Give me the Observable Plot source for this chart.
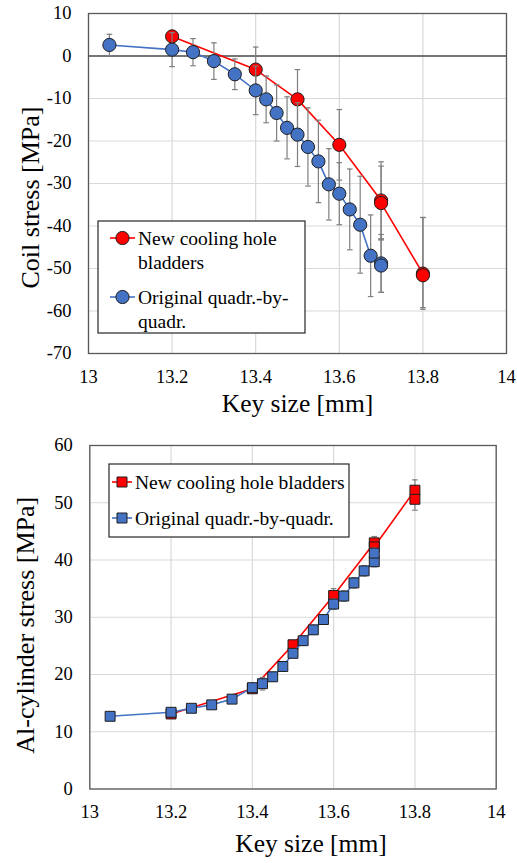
<!DOCTYPE html>
<html>
<head>
<meta charset="utf-8">
<script src="https://cdn.jsdelivr.net/npm/d3@7"></script>
<script src="https://cdn.jsdelivr.net/npm/@observablehq/plot@0.6"></script>
<style>
  html, body { margin: 0; padding: 0; background: #fff; }
  #wrap { width: 517px; }
  svg { display: block; }
</style>
</head>
<body>
<div id="wrap"></div>
<script>
// ---------- data ----------
const xTicks = [13, 13.2, 13.4, 13.6, 13.8, 14];
const topYTicks = [-70, -60, -50, -40, -30, -20, -10, 0, 10];
const botYTicks = [0, 10, 20, 30, 40, 50, 60];

const seriesNames = ["New cooling hole bladders", "Original quadr.-by-quadr."];

const redX = [13.2, 13.4, 13.5, 13.6, 13.7, 13.7, 13.8, 13.8];
const blueX = [13.05, 13.2, 13.25, 13.3, 13.35, 13.4, 13.425, 13.45, 13.475, 13.5,
               13.525, 13.55, 13.575, 13.6, 13.625, 13.65, 13.675, 13.7, 13.7];

// Coil stress [MPa]
const coilRedY = [4.6, -3.2, -10.2, -20.9, -34.0, -34.6, -51.2, -51.6];
const coilRedErrUp = [1.4, 5.3, 7.0, 8.3, 9.1, 8.7, 13.2, 13.6];
const coilRedErrDown = [1.4, 5.3, 7.0, 8.3, 9.1, 8.7, 8.0, 8.0];
const coilBlueY = [2.6, 1.5, 0.9, -1.2, -4.3, -8.1, -10.2, -13.4, -16.9, -18.5,
                   -21.4, -24.8, -30.2, -32.4, -36.1, -39.7, -47.0, -48.8, -49.3];
const coilBlueErr = [2.5, 4.0, 3.2, 4.3, 3.6, 5.7, 5.5, 6.6, 7.3, 7.5,
                     9.2, 9.7, 8.4, 7.3, 9.5, 11.4, 9.6, 6.8, 6.3];

// Al-cylinder stress [MPa]
const alRedY = [13.1, 17.5, 25.2, 33.8, 43.0, 42.3, 52.2, 50.6];
const alRedErr = [0.5, 0.6, 0.7, 1.2, 1.1, 1.1, 1.8, 1.9];
const alBlueY = [12.7, 13.4, 14.1, 14.7, 15.7, 17.7, 18.4, 19.6, 21.4, 23.7,
                 25.9, 27.8, 29.6, 32.3, 33.7, 36.0, 38.1, 39.7, 41.2];
const alBlueErr = [0.6, 0.6, 0.6, 0.6, 0.7, 0.7, 1.1, 0.8, 0.8, 0.8,
                   0.8, 0.8, 0.8, 0.9, 0.9, 0.9, 0.9, 0.9, 0.9];

// ---------- helpers ----------
const RED = "#ff0000", BLUE = "#4472c4", ERR = "#7f7f7f", GRID = "#d9d9d9";
const FONT = "Liberation Serif";

const hline = {
  draw(ctx, size) {
    const h = Math.sqrt(size / Math.PI);
    ctx.moveTo(-h, 0); ctx.lineTo(h, 0);
  }
};

function rows(xs, ys, up, down) {
  return xs.map((x, i) => ({x, y: ys[i], hi: ys[i] + up[i], lo: ys[i] - (down || up)[i]}));
}

function seriesMarks(data, color, symbol, r) {
  const caps = data.flatMap(d => [{x: d.x, y: d.hi}, {x: d.x, y: d.lo}]);
  return [
    Plot.ruleX(data, {x: "x", y1: "lo", y2: "hi", stroke: ERR, strokeWidth: 1.2}),
    Plot.dot(caps, {x: "x", y: "y", symbol: hline, r: 2.8, stroke: ERR, strokeWidth: 1.2}),
    Plot.line(data, {x: "x", y: "y", stroke: color, strokeWidth: 1.6}),
    Plot.dot(data, {x: "x", y: "y", symbol, r, fill: color, stroke: "#1e1e1e", strokeWidth: 1})
  ];
}

function makeChart(o) {
  return Plot.plot({
    width: 517,
    height: o.height,
    marginTop: o.mt, marginBottom: o.mb, marginLeft: o.ml, marginRight: o.mr,
    style: {fontFamily: FONT, background: "#fff", color: "#000", overflow: "visible"},
    x: {domain: [13, 14]},
    y: {domain: o.yDomain},
    marks: [
      Plot.gridX(xTicks, {stroke: GRID, strokeOpacity: 1, strokeWidth: 1.2}),
      Plot.gridY(o.yTicks, {stroke: GRID, strokeOpacity: 1, strokeWidth: 1.2}),
      o.zero ? Plot.ruleY([0], {stroke: "#000", strokeWidth: 1.2}) : null,
      Plot.frame({stroke: "#595959", strokeWidth: 1.3}),
      Plot.axisX(xTicks, {tickSize: 0, tickPadding: 16, fontSize: 18.5, tickFormat: d => String(d), label: null}),
      Plot.axisY(o.yTicks, {tickSize: 0, tickPadding: 17, fontSize: 18.5, tickFormat: d => String(d), label: null}),
      Plot.text([o.xLabel], {text: d => d, frameAnchor: "bottom", textAnchor: "middle", dy: o.xLabelDy, dx: o.xLabelDx, fontSize: 25.5}),
      Plot.text([o.yLabel], {text: d => d, frameAnchor: "left", textAnchor: "middle", rotate: -90, dx: o.yLabelDx, dy: o.yLabelDy, fontSize: 26}),
      ...seriesMarks(o.red, RED, o.symbol, o.r),
      ...seriesMarks(o.blue, BLUE, o.symbol, o.r)
    ]
  });
}

function addLegend(svg, box, items, symbol, size) {
  const g = d3.select(svg).append("g").attr("font-family", FONT).attr("font-size", 19.5)
    .attr("text-anchor", "start");
  g.append("rect").attr("x", box.x).attr("y", box.y).attr("width", box.w).attr("height", box.h)
    .attr("fill", "#fff").attr("stroke", "#262626").attr("stroke-width", 1.2);
  items.forEach(it => {
    g.append("line").attr("x1", box.x + box.lx1).attr("x2", box.x + box.lx2).attr("y1", it.y).attr("y2", it.y)
      .attr("stroke", it.color).attr("stroke-width", 1.6);
    g.append("path").attr("transform", `translate(${box.x + (box.lx1 + box.lx2) / 2},${it.y})`)
      .attr("d", d3.symbol(symbol === "square" ? d3.symbolSquare : d3.symbolCircle, size)())
      .attr("fill", it.color).attr("stroke", "#1e1e1e").attr("stroke-width", 1);
    it.lines.forEach((t, k) => {
      g.append("text").attr("x", box.x + box.tx).attr("y", it.y + k * box.lh)
        .attr("text-anchor", "start")
        .attr("dominant-baseline", "central").attr("fill", "#000").text(t);
    });
  });
}

// ---------- charts ----------
const wrap = document.getElementById("wrap");

const coilChart = makeChart({
  height: 428, mt: 13, mb: 75, ml: 88, mr: 11,
  yDomain: [-70, 10], yTicks: topYTicks, zero: true,
  xLabel: "Key size [mm]", yLabel: "Coil stress [MPa]", xLabelDx: 0, xLabelDy: 58, yLabelDx: -58, yLabelDy: 14,
  red: rows(redX, coilRedY, coilRedErrUp, coilRedErrDown),
  blue: rows(blueX, coilBlueY, coilBlueErr),
  symbol: "circle", r: 6.6
});
wrap.appendChild(coilChart);
addLegend(coilChart, {x: 98, y: 221, w: 207, h: 112, tx: 40, lh: 24, lx1: 12, lx2: 37}, [
  {color: RED, y: 238, lines: ["New cooling hole", "bladders"]},
  {color: BLUE, y: 297, lines: ["Original quadr.-by-", "quadr."]}
], "circle", Math.PI * 6.6 * 6.6);

const alChart = makeChart({
  height: 435, mt: 17, mb: 74.5, ml: 89.3, mr: 21.3,
  yDomain: [0, 60], yTicks: botYTicks, zero: false,
  xLabel: "Key size [mm]", yLabel: "Al-cylinder stress [MPa]", xLabelDx: 18, xLabelDy: 63, yLabelDx: -64, yLabelDy: 8,
  red: rows(redX, alRedY, alRedErr),
  blue: rows(blueX, alBlueY, alBlueErr),
  symbol: "square", r: 5.6
});
wrap.appendChild(alChart);
addLegend(alChart, {x: 109, y: 36, w: 240, h: 73, tx: 26, lh: 0, lx1: 3, lx2: 23}, [
  {color: RED, y: 54, lines: [seriesNames[0]]},
  {color: BLUE, y: 90, lines: [seriesNames[1]]}
], "square", 100);
</script>
</body>
</html>
